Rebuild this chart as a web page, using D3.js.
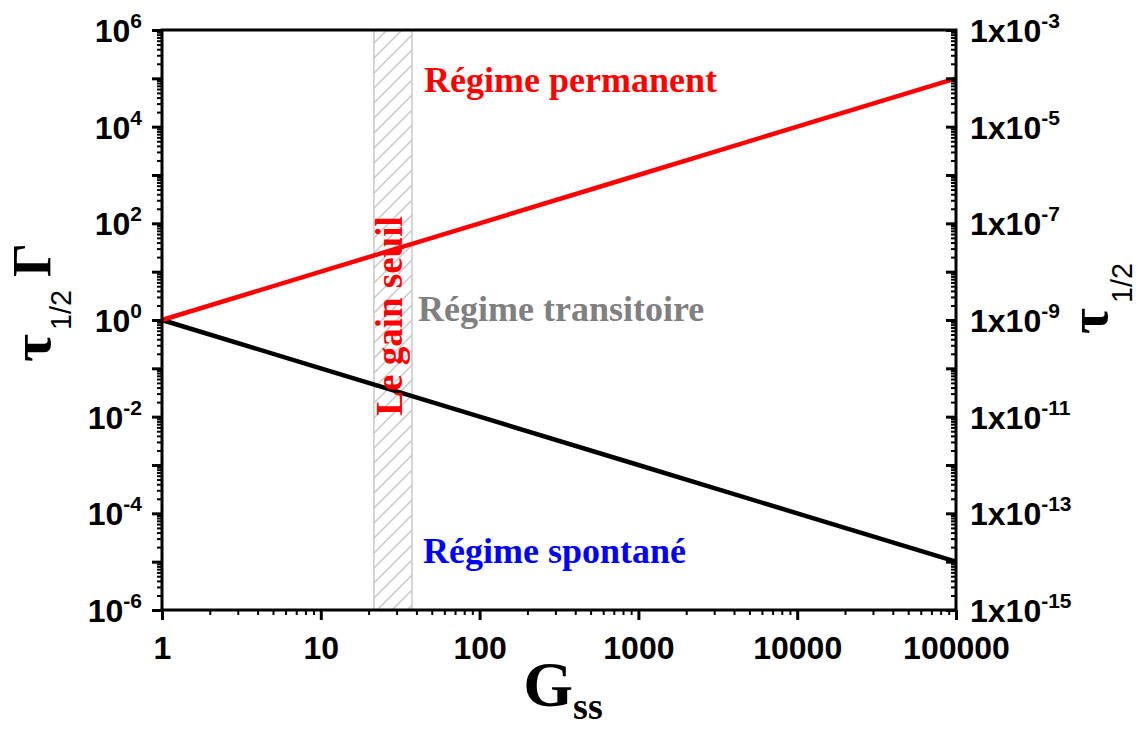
<!DOCTYPE html>
<html>
<head>
<meta charset="utf-8">
<script src="https://cdn.jsdelivr.net/npm/d3@7"></script>
<style>
  html, body { margin: 0; padding: 0; background: #fff; }
  svg { display: block; }
</style>
</head>
<body>
<svg id="chart" width="1141" height="729"></svg>
<script>
// ---- data ----
const gss = [1, 10, 100, 1000, 10000, 100000];
const gammaPermanent = [1, 10, 100, 1000, 10000, 100000];
const gammaSpontane = [1, 0.1, 0.01, 0.001, 0.0001, 0.00001];
const thresholdBand = [21.6, 37.5];
const xTickValues = [1, 10, 100, 1000, 10000, 100000];
const xTickLabels = ["1", "10", "100", "1000", "10000", "100000"];
const leftExponents = [6, 4, 2, 0, -2, -4, -6];
const rightExponents = [-3, -5, -7, -9, -11, -13, -15];
const annotations = [
  { text: "Régime permanent", color: "#ff0000" },
  { text: "Régime transitoire", color: "#808080" },
  { text: "Régime spontané", color: "#0000ff" }
];

// ---- layout ----
const W = 1141, H = 729;
const m = { left: 162, right: 185, top: 30, bottom: 119 };
const iw = W - m.left - m.right, ih = H - m.top - m.bottom;
const SANS = "'Liberation Sans', Arial, sans-serif";
const SERIF = "'Liberation Serif', 'Times New Roman', serif";

const svg = d3.select("#chart");
const g = svg.append("g").attr("transform", `translate(${m.left},${m.top})`);

const x = d3.scaleLog().domain([1, 100000]).range([0, iw]);
const y = d3.scaleLog().domain([1e-6, 1e6]).range([ih, 0]);
const yR = d3.scaleLog().domain([1e-15, 1e-3]).range([ih, 0]);

function decades(lo, hi) { const a = []; for (let e = lo; e <= hi; e++) a.push(Math.pow(10, e)); return a; }
function minors(lo, hi) { const a = []; for (let e = lo; e < hi; e++) for (let k = 2; k <= 9; k++) a.push(k * Math.pow(10, e)); return a; }

// ---- hatch pattern ----
const defs = svg.append("defs");
const pat = defs.append("pattern").attr("id", "hatch").attr("patternUnits", "userSpaceOnUse")
  .attr("width", 15).attr("height", 15);
pat.append("path").attr("d", "M-2,17 L17,-2 M-2,2 L2,-2 M13,17 L17,13")
  .attr("stroke", "#c8c8c8").attr("stroke-width", 1.5).attr("fill", "none");

// ---- threshold band ----
g.append("rect")
  .attr("x", x(thresholdBand[0])).attr("width", x(thresholdBand[1]) - x(thresholdBand[0]))
  .attr("y", 0).attr("height", ih)
  .attr("fill", "url(#hatch)").attr("stroke", "#c8c8c8").attr("stroke-width", 1.5);

// ---- lines ----
const line = d3.line().x(d => x(d[0])).y(d => y(d[1]));
g.append("path").datum(gss.map((v, i) => [v, gammaSpontane[i]]))
  .attr("d", line).attr("fill", "none").attr("stroke", "#000").attr("stroke-width", 4.5);
g.append("path").datum(gss.map((v, i) => [v, gammaPermanent[i]]))
  .attr("d", line).attr("fill", "none").attr("stroke", "#ff0000").attr("stroke-width", 4.5);

// ---- axes ----
function styleAxis(sel) {
  sel.select(".domain").remove();
  sel.selectAll(".tick line").attr("stroke", "#000").attr("stroke-width", 3);
}
const leftMajor = g.append("g").call(d3.axisLeft(y).tickValues(decades(-6, 6)).tickSize(10).tickFormat(""));
styleAxis(leftMajor);
const leftMinor = g.append("g").call(d3.axisLeft(y).tickValues(minors(-6, 6)).tickSize(5).tickFormat(""));
styleAxis(leftMinor); leftMinor.selectAll(".tick line").attr("stroke-width", 2);
const rightMajor = g.append("g").attr("transform", `translate(${iw},0)`)
  .call(d3.axisRight(yR).tickValues(decades(-15, -3)).tickSize(-10).tickFormat(""));
styleAxis(rightMajor);
const rightMinor = g.append("g").attr("transform", `translate(${iw},0)`)
  .call(d3.axisRight(yR).tickValues(minors(-15, -3)).tickSize(-5).tickFormat(""));
styleAxis(rightMinor); rightMinor.selectAll(".tick line").attr("stroke-width", 2);
const botMajor = g.append("g").attr("transform", `translate(0,${ih})`)
  .call(d3.axisBottom(x).tickValues(xTickValues).tickSize(10).tickFormat((d, i) => xTickLabels[i]));
styleAxis(botMajor);
botMajor.selectAll(".tick text").attr("y", 26).attr("dy", "0.71em")
  .attr("font-family", SANS).attr("font-weight", "bold").attr("font-size", 32).attr("fill", "#000");
const botMinor = g.append("g").attr("transform", `translate(0,${ih})`)
  .call(d3.axisBottom(x).tickValues(minors(0, 5)).tickSize(5).tickFormat(""));
styleAxis(botMinor); botMinor.selectAll(".tick line").attr("stroke-width", 2);

// frame
g.append("rect").attr("x", 0).attr("y", 0).attr("width", iw).attr("height", ih)
  .attr("fill", "none").attr("stroke", "#000").attr("stroke-width", 3);

// left tick labels
const lt = g.append("g").selectAll("text").data(leftExponents).join("text")
  .attr("x", -20).attr("y", d => y(Math.pow(10, d)) + 12)
  .attr("text-anchor", "end").attr("font-family", SANS).attr("font-weight", "bold")
  .attr("font-size", 32).attr("fill", "#000");
lt.append("tspan").text("10");
lt.append("tspan").attr("font-size", 21).attr("dy", -14).text(d => String(d));

// right tick labels
const rt = g.append("g").selectAll("text").data(rightExponents).join("text")
  .attr("x", iw + 14).attr("y", d => yR(Math.pow(10, d)) + 12)
  .attr("text-anchor", "start").attr("font-family", SANS).attr("font-weight", "bold")
  .attr("font-size", 32).attr("fill", "#000");
rt.append("tspan").text("1x10");
rt.append("tspan").attr("font-size", 21).attr("dy", -14).text(d => String(d));

// ---- axis titles ----
const xt = svg.append("text").attr("x", 563).attr("y", 706).attr("text-anchor", "middle")
  .attr("font-family", SERIF).attr("font-weight", "bold").attr("fill", "#000");
xt.append("tspan").attr("font-size", 64).text("G");
xt.append("tspan").attr("font-size", 38).attr("dy", 13).text("ss");

// left title pieces (rotated, reading bottom-to-top)
function rotText(cx, cy, txt, family, weight, size, len) {
  const t = svg.append("text").attr("transform", `translate(${cx},${cy}) rotate(-90)`)
    .attr("text-anchor", "middle").attr("font-family", family).attr("font-weight", weight)
    .attr("font-size", size).attr("fill", "#000").text(txt);
  if (len) t.attr("textLength", len).attr("lengthAdjust", "spacingAndGlyphs");
  return t;
}
rotText(50, 348, "τ", SERIF, "bold", 54, 28);
rotText(71, 310, "1/2", SANS, "normal", 30, 40);
rotText(50, 260, "Γ", SERIF, "bold", 54, 34);

// right title pieces
rotText(1107, 321, "τ", SERIF, "bold", 54, 26);
rotText(1132, 283, "1/2", SANS, "normal", 30, 40);

// ---- annotations ----
const annPos = [[424, 92], [418, 321], [423, 563]];
svg.append("g").selectAll("text").data(annotations).join("text")
  .attr("x", (d, i) => annPos[i][0]).attr("y", (d, i) => annPos[i][1])
  .attr("font-family", SERIF).attr("font-weight", "bold").attr("font-size", 36)
  .attr("fill", d => d.color).text(d => d.text);

svg.append("text").attr("transform", "translate(402,316) rotate(-90)")
  .attr("text-anchor", "middle").attr("font-family", SERIF).attr("font-weight", "bold")
  .attr("font-size", 37).attr("fill", "#ff0000").text("Le gain seuil");
</script>
</body>
</html>
